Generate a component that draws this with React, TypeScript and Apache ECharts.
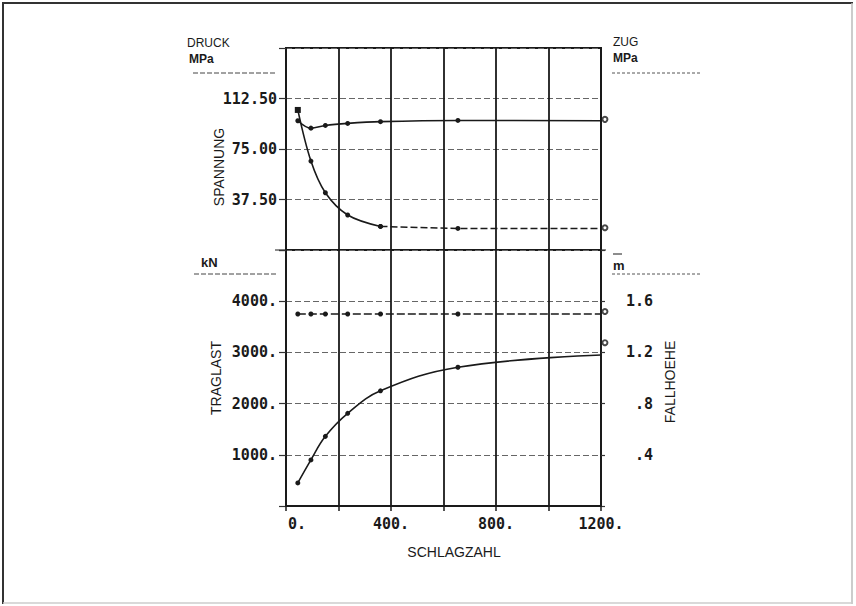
import React, { useEffect, useRef } from "react";
import * as echarts from "echarts";

// Schlagzahl (x) of the measured points
const schlagzahl = [45, 95, 150, 235, 360, 655];
// Spannung (MPa), upper curve and lower curve
const spannungOben = [96, 90.5, 92.5, 94, 95.3, 96.2];
const spannungUnten = [104, 66, 42.5, 26, 17.5, 16];
// Traglast (kN) and Fallhoehe (m)
const traglast = [450, 900, 1360, 1810, 2250, 2710];
const fallhoehe = [1.5, 1.5, 1.5, 1.5, 1.5, 1.5];
// curve ends at the right frame (x = 1200)
const endX = 1200;
const spannungObenEnd = 96;
const spannungUntenEnd = 16;
const traglastEnd = 2950;
const fallhoeheEnd = 1.5;
// open markers beside the right axis
const zugX = 1215;
const zugOben = 97;
const zugUnten = 16.5;
const traglastRechts = 3190;
const fallhoeheRechts = 1.52;

// tick labels
const xTickLabels: Record<number, string> = { 0: "0.", 400: "400.", 800: "800.", 1200: "1200." };
const spannungTicks: Record<string, string> = { "37.5": "37.50", "75": "75.00", "112.5": "112.50" };
const traglastTicks: Record<number, string> = { 1000: "1000.", 2000: "2000.", 3000: "3000.", 4000: "4000." };
const fallhoeheTicks: Record<number, string> = { 4: ".4", 8: ".8", 12: "1.2", 16: "1.6" };

const MONO = "DejaVu Sans Mono";
const SANS = "Liberation Sans";
const INK = "#1a1a1a";

export default function App() {
  const ref = useRef<HTMLDivElement>(null);

  useEffect(() => {
    if (!ref.current) return;
    const chart = echarts.init(ref.current, undefined, { renderer: "svg" });

    const pts = (ys: number[]) => schlagzahl.map((x, i) => [x, ys[i]]);
    const endPt = (y: number) => ({ value: [endX, y], symbol: "none" });

    const txt = (text: string, x: number, y: number, opts: any = {}) => ({
      type: "text",
      x,
      y,
      rotation: opts.rotation || 0,
      style: {
        text,
        font: opts.font || `14px "${SANS}"`,
        fill: INK,
        align: opts.align || "left",
        textAlign: opts.align || "left",
        verticalAlign: "middle",
        textVerticalAlign: "middle",
      },
    });
    const hline = (x1: number, x2: number, y: number, color = "#444", dash: any = [5, 2]) => ({
      type: "line",
      shape: { x1, y1: y, x2, y2: y },
      style: { stroke: color, lineWidth: 1, lineDash: dash },
    });

    const labelStyle = {
      fontFamily: MONO,
      fontSize: 15,
      fontWeight: "bold",
      color: INK,
    };
    const splitDashed = {
      show: true,
      lineStyle: { color: "#666", width: 1, type: [6, 3] },
    };

    const option: any = {
      animation: false,
      backgroundColor: "#ffffff",
      grid: [
        { left: 286, top: 48, width: 315, height: 202, show: true, borderColor: INK, borderWidth: 2, backgroundColor: "transparent" },
        { left: 286, top: 250, width: 315, height: 256, show: true, borderColor: INK, borderWidth: 2, backgroundColor: "transparent" },
      ],
      xAxis: [
        {
          type: "value", gridIndex: 0, min: 0, max: 1200, interval: 200,
          axisLine: { show: false }, axisTick: { show: false }, axisLabel: { show: false },
          splitLine: { show: true, lineStyle: { color: INK, width: 1.8 } },
        },
        {
          type: "value", gridIndex: 1, min: 0, max: 1200, interval: 200,
          axisLine: { show: true, lineStyle: { color: INK, width: 2 } },
          axisTick: { show: true, length: 5, lineStyle: { color: INK, width: 1.5 } },
          axisLabel: {
            ...labelStyle,
            margin: 10,
            formatter: (v: number) => (v === 0 ? "{z|0.}" : xTickLabels[v] || ""),
            rich: { z: { ...labelStyle, padding: [0, 0, 0, 22] } },
          },
          splitLine: { show: true, lineStyle: { color: INK, width: 1.8 } },
        },
      ],
      yAxis: [
        {
          type: "value", gridIndex: 0, min: 0, max: 150, interval: 37.5,
          axisLine: { show: true, lineStyle: { color: INK, width: 2 } },
          axisTick: { show: true, length: 7, lineStyle: { color: "#333", width: 1.2 } },
          axisLabel: { ...labelStyle, margin: 9, formatter: (v: number) => spannungTicks[String(v)] || "" },
          splitLine: splitDashed,
        },
        {
          type: "value", gridIndex: 1, min: 0, max: 5000, interval: 1000,
          axisLine: { show: true, lineStyle: { color: INK, width: 2 } },
          axisTick: { show: true, length: 7, lineStyle: { color: "#333", width: 1.2 } },
          axisLabel: { ...labelStyle, margin: 9, formatter: (v: number) => traglastTicks[v] || "" },
          splitLine: splitDashed,
        },
        {
          type: "value", gridIndex: 1, position: "right", min: 0, max: 2, interval: 0.4,
          axisLine: { show: true, lineStyle: { color: INK, width: 2 } },
          axisTick: { show: true, length: 4, lineStyle: { color: "#333", width: 1.2 } },
          axisLabel: {
            ...labelStyle, margin: 52, align: "right", padding: [0, 0, 10, 0],
            formatter: (v: number) => fallhoeheTicks[Math.round(v * 10)] || "",
          },
          splitLine: { show: false },
        },
      ],
      series: [
        {
          type: "line", xAxisIndex: 0, yAxisIndex: 0, smooth: 0.35,
          data: [...pts(spannungOben), endPt(spannungObenEnd)],
          symbol: "circle", symbolSize: 5,
          itemStyle: { color: INK }, lineStyle: { color: INK, width: 1.6 },
        },
        {
          type: "line", xAxisIndex: 0, yAxisIndex: 0, smooth: 0.35,
          data: pts(spannungUnten).slice(0, 5).map((p, i) =>
            i === 0 ? { value: p, symbol: "rect", symbolSize: 6 } : p
          ),
          symbol: "circle", symbolSize: 5,
          itemStyle: { color: INK }, lineStyle: { color: INK, width: 1.6 },
        },
        {
          type: "line", xAxisIndex: 0, yAxisIndex: 0,
          data: [...pts(spannungUnten).slice(4), endPt(spannungUntenEnd)],
          symbol: "circle", symbolSize: 5,
          itemStyle: { color: INK }, lineStyle: { color: INK, width: 1.5, type: [7, 3] },
        },
        {
          type: "scatter", xAxisIndex: 0, yAxisIndex: 0, clip: false,
          data: [[zugX, zugOben], [zugX, zugUnten]],
          symbol: "emptyCircle", symbolSize: 5,
          itemStyle: { color: INK, borderColor: INK, borderWidth: 1 },
        },
        {
          type: "line", xAxisIndex: 1, yAxisIndex: 1, smooth: 0.4,
          data: [...pts(traglast), endPt(traglastEnd)],
          symbol: "circle", symbolSize: 5,
          itemStyle: { color: INK }, lineStyle: { color: INK, width: 1.6 },
        },
        {
          type: "line", xAxisIndex: 1, yAxisIndex: 2,
          data: [...pts(fallhoehe), endPt(fallhoeheEnd)],
          symbol: "circle", symbolSize: 5,
          itemStyle: { color: INK }, lineStyle: { color: INK, width: 1.5, type: [8, 3] },
        },
        {
          type: "scatter", xAxisIndex: 1, yAxisIndex: 1, clip: false,
          data: [[zugX, traglastRechts]],
          symbol: "emptyCircle", symbolSize: 5,
          itemStyle: { color: INK, borderColor: INK, borderWidth: 1 },
        },
        {
          type: "scatter", xAxisIndex: 1, yAxisIndex: 2, clip: false,
          data: [[zugX, fallhoeheRechts]],
          symbol: "emptyCircle", symbolSize: 5,
          itemStyle: { color: INK, borderColor: INK, borderWidth: 1 },
        },
      ],
      graphic: [
        // page border (scanned sheet)
        { type: "line", shape: { x1: 2, y1: 3, x2: 853, y2: 3 }, style: { stroke: "#333", lineWidth: 2 } },
        { type: "line", shape: { x1: 3, y1: 2, x2: 3, y2: 604 }, style: { stroke: "#333", lineWidth: 2 } },
        { type: "line", shape: { x1: 852, y1: 3, x2: 852, y2: 604 }, style: { stroke: "#bbb", lineWidth: 1.5 } },
        { type: "line", shape: { x1: 3, y1: 603, x2: 852, y2: 603 }, style: { stroke: "#ccc", lineWidth: 1.5 } },
        // left headers
        txt("DRUCK", 187, 43, { font: `12px "${SANS}"` }),
        txt("MPa", 189, 59, { font: `bold 12px "${SANS}"` }),
        hline(193, 276, 73),
        txt("SPANNUNG", 219, 167, { rotation: Math.PI / 2, align: "center", font: `14px "${SANS}"` }),
        txt("kN", 201, 262, { font: `bold 13px "${SANS}"` }),
        hline(194, 278, 274),
        txt("TRAGLAST", 216, 378, { rotation: Math.PI / 2, align: "center", font: `14px "${SANS}"` }),
        // right headers
        txt("ZUG", 613, 42, { font: `12px "${SANS}"` }),
        txt("MPa", 613, 58, { font: `bold 12px "${SANS}"` }),
        hline(612, 700, 73, "#555", [3, 2]),
        txt("m", 613, 265, { font: `bold 13px "${SANS}"` }),
        hline(613, 622, 254, INK, null),
        hline(612, 700, 274, "#555", [3, 2]),
        txt("FALLHOEHE", 670, 382, { rotation: Math.PI / 2, align: "center", font: `14px "${SANS}"` }),
        // x axis name
        txt("SCHLAGZAHL", 454, 552, { align: "center", font: `14px "${SANS}"` }),
        // divider extension
        hline(275, 606, 250, INK, null),
      ],
    };

    chart.setOption(option);
    return () => chart.dispose();
  }, []);

  return (
    <div
      ref={ref}
      style={{ position: "absolute", left: 0, top: 0, width: 856, height: 606, background: "#fff" }}
    />
  );
}
